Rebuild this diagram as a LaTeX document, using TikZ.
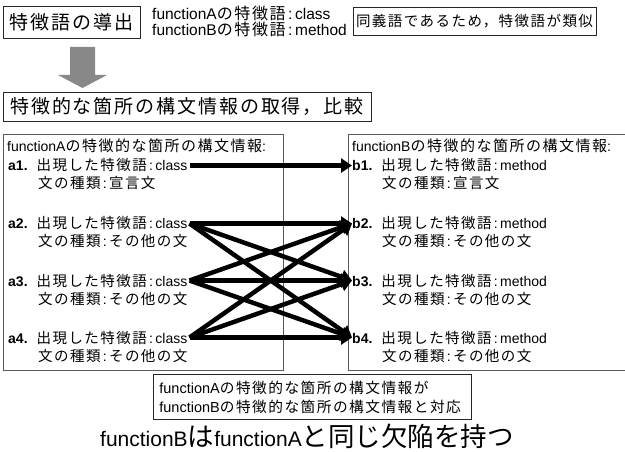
\documentclass[tikz,border=0pt]{standalone}
\usepackage{fontspec}
\setmainfont{Liberation Sans}
\newfontfamily\jpf[LetterSpace=10]{Noto Sans CJK JP}
\newfontfamily\jpg{Noto Sans CJK JP}
\newcommand\J[2]{{\fontsize{#1}{#1}\jpf #2}}
\newcommand\JG[2]{{\fontsize{#1}{#1}\jpg #2}}
\newcommand\cln{\,:\,}
\usetikzlibrary{arrows.meta}
\definecolor{arrowgray}{RGB}{136,136,136}
\begin{document}
\begin{tikzpicture}[x=1pt,y=-1pt,
  txt/.style={anchor=base west, inner sep=0pt, font=\fontsize{14}{16}\selectfont},
  toptxt/.style={anchor=base west, inner sep=0pt, font=\fontsize{15.5}{17}\selectfont},
  tbox/.style={draw=black!85, line width=0.8pt, inner sep=0pt},
  pane/.style={draw=black!65, line width=0.9pt, inner sep=0pt, anchor=north west},
  link/.style={line width=4.5pt, -{Triangle[length=11pt,width=14pt]}}]
\useasboundingbox (0,0) rectangle (625,452);
% top row
\node[tbox, minimum width=137pt, minimum height=32pt] (t1) at (71.5,22) {\J{19}{特徴語の導出}};
\node[toptxt] (kA) at (152,20) {functionA\J{16}{の特徴語}\cln class};
\node[toptxt] (kB) at (152,36) {functionB\J{16}{の特徴語}\cln method};
\node[tbox, minimum width=243pt, minimum height=28pt] (syn) at (474.5,21) {\J{14.5}{同義語であるため，特徴語が類似}};
% gray arrow
\fill[arrowgray] (70,47) -- (95,47) -- (95,75) -- (107,75) -- (82.5,88) -- (58,75) -- (70,75) -- cycle;
% second title
\node[tbox, minimum width=368pt, minimum height=29pt] (t2) at (187,106.5) {\J{19}{特徴的な箇所の構文情報の取得，比較}};
% panes
\node[pane, minimum width=280pt, minimum height=236pt] (PA) at (3,134) {};
\node[pane, minimum width=280pt, minimum height=236pt] (PB) at (348,134) {};
% left pane text
\node[txt] (hA) at (7,152) {functionA\J{15}{の特徴的な箇所の構文情報}:};
\node[txt] (a1) at (8,171) {\textbf{a1.}\hspace{9pt}\J{14.5}{出現した特徴語}\cln class};
\node[txt] (a1s) at (38,189) {\J{14.5}{文の種類}\cln\J{14.5}{宣言文}};
\node[txt] (a2) at (8,229) {\textbf{a2.}\hspace{9pt}\J{14.5}{出現した特徴語}\cln class};
\node[txt] (a2s) at (38,247) {\J{14.5}{文の種類}\cln\J{14.5}{その他の文}};
\node[txt] (a3) at (8,286) {\textbf{a3.}\hspace{9pt}\J{14.5}{出現した特徴語}\cln class};
\node[txt] (a3s) at (38,304) {\J{14.5}{文の種類}\cln\J{14.5}{その他の文}};
\node[txt] (a4) at (8,343) {\textbf{a4.}\hspace{9pt}\J{14.5}{出現した特徴語}\cln class};
\node[txt] (a4s) at (38,361) {\J{14.5}{文の種類}\cln\J{14.5}{その他の文}};
% right pane text
\node[txt] (hB) at (352,152) {functionB\J{15}{の特徴的な箇所の構文情報}:};
\node[txt] (b1) at (352,171) {\textbf{b1.}\hspace{9pt}\J{14.5}{出現した特徴語}\cln method};
\node[txt] (b1s) at (382,189) {\J{14.5}{文の種類}\cln\J{14.5}{宣言文}};
\node[txt] (b2) at (352,229) {\textbf{b2.}\hspace{9pt}\J{14.5}{出現した特徴語}\cln method};
\node[txt] (b2s) at (382,247) {\J{14.5}{文の種類}\cln\J{14.5}{その他の文}};
\node[txt] (b3) at (352,286) {\textbf{b3.}\hspace{9pt}\J{14.5}{出現した特徴語}\cln method};
\node[txt] (b3s) at (382,304) {\J{14.5}{文の種類}\cln\J{14.5}{その他の文}};
\node[txt] (b4) at (352,343) {\textbf{b4.}\hspace{9pt}\J{14.5}{出現した特徴語}\cln method};
\node[txt] (b4s) at (382,361) {\J{14.5}{文の種類}\cln\J{14.5}{その他の文}};
% links
\draw[link] ([xshift=2pt]a1.east) -- (b1.west);
\foreach \s in {a2,a3,a4}{
  \foreach \t in {b2,b3,b4}{
    \draw[link] ([xshift=2pt]\s.east) -- (\t.west);
  }
}
% correspondence box
\node[tbox, anchor=north west, minimum width=318pt, minimum height=45pt, align=left, text width=306pt, inner xsep=6pt, font=\fontsize{14.5}{19}\selectfont] (cor) at (153,374) {functionA\J{14.7}{の特徴的な箇所の構文情報が}\\functionB\J{14.7}{の特徴的な箇所の構文情報と対応}};
% result
\node[anchor=base west, inner sep=0pt, font=\fontsize{21}{23}\selectfont] (res) at (100,446) {functionB\JG{26.5}{は}functionA\JG{26.5}{と同じ欠陥を持つ}};
\end{tikzpicture}
\end{document}
